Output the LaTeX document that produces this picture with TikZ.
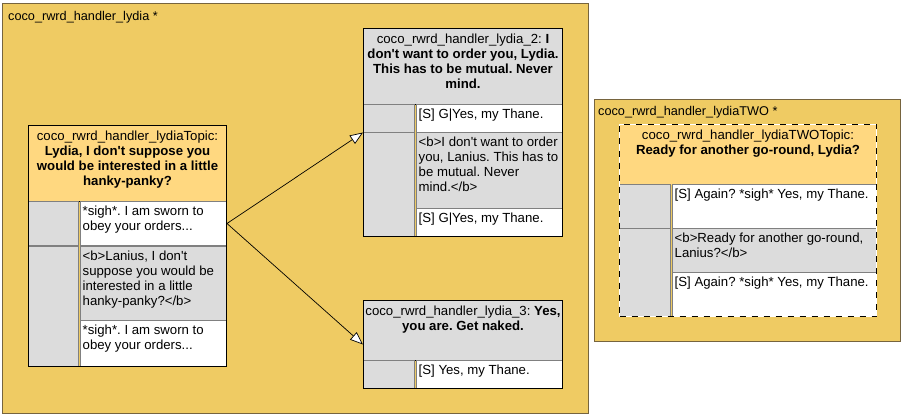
\documentclass[tikz,border=0pt]{standalone}
\usepackage{fontspec}
\setmainfont{Liberation Sans}[Ligatures=TeXOff]
\usetikzlibrary{arrows.meta}
\definecolor{grpfill}{RGB}{239,203,99}
\definecolor{grpline}{RGB}{118,100,62}
\definecolor{topicfill}{RGB}{255,216,128}
\definecolor{cellgrey}{RGB}{220,220,220}
\definecolor{cellline}{RGB}{128,128,128}
\frenchspacing

\begin{document}
\begin{tikzpicture}[x=1pt, y=-1pt, font=\fontsize{13.2}{15}\selectfont,
  grp/.style={draw=grpline, fill=grpfill, line width=1pt, anchor=north west, inner sep=0pt},
  cell/.style={draw=cellline, line width=1pt, anchor=north west, inner sep=0pt},
  greycell/.style={cell, fill=cellgrey},
  whitecell/.style={cell, fill=white},
  outline/.style={draw=black, line width=1pt, anchor=north west, inner sep=0pt},
  grpname/.style={anchor=north west, inner sep=0pt, font=\fontsize{12.7}{15}\selectfont},
  txt/.style={anchor=north west, inner xsep=2.5pt, inner ysep=4.5pt, align=left},
  hdrtxt/.style={anchor=north, inner xsep=0pt, inner ysep=6pt, align=center},
  link/.style={-{Triangle[fill=white, length=13pt, width=10pt]}, line width=0.7pt}]
  \useasboundingbox (0,0) rectangle (907,417);

  % group lydia
  \node[grp, minimum width=586, minimum height=410] (lydia) at (2,3) {};
  \node[grpname] (lydiaName) at (8,11) {coco\_rwrd\_handler\_lydia *};

  % topic
  \node[cell, draw=black, fill=topicfill, minimum width=198, minimum height=76] (topicHdr) at (28,125) {};
  \node[hdrtxt] (topicTitle) at (topicHdr.north) {coco\_rwrd\_handler\_lydiaTopic:\\
    \textbf{Lydia, I don't suppose you}\\\textbf{would be interested in a little}\\\textbf{hanky-panky?}};
  \node[greycell, minimum width=50, minimum height=44] (topicA) at (28,201) {};
  \node[whitecell, minimum width=146, minimum height=44] (topicAres) at (80,201) {};
  \node[txt] (topicAtxt) at (topicAres.north west) {*sigh*. I am sworn to\\obey your orders...};
  \node[greycell, minimum width=50, minimum height=120] (topicB) at (28,246) {};
  \node[greycell, minimum width=146, minimum height=74] (topicBsay) at (80,246) {};
  \node[txt] (topicBtxt) at (topicBsay.north west) {<b>Lanius, I don't\\suppose you would be\\interested in a little\\hanky-panky?</b>};
  \node[whitecell, minimum width=146, minimum height=46] (topicBres) at (80,320) {};
  \node[txt] (topicBrestxt) at (topicBres.north west) {*sigh*. I am sworn to\\obey your orders...};
  \node[outline, minimum width=198, minimum height=241] (topic) at (28,125) {};

  % lydia_2
  \node[cell, draw=black, fill=cellgrey, minimum width=199, minimum height=76] (twoHdr) at (363,28) {};
  \node[hdrtxt] (twoTitle) at (twoHdr.north) {coco\_rwrd\_handler\_lydia\_2: \textbf{I}\\
    \textbf{don't want to order you, Lydia.}\\\textbf{This has to be mutual. Never}\\\textbf{mind.}};
  \node[greycell, minimum width=51, minimum height=28] (twoA) at (363,104) {};
  \node[whitecell, minimum width=146, minimum height=28] (twoAres) at (416,104) {};
  \node[txt] (twoAtxt) at (twoAres.north west) {[S] G|Yes, my Thane.};
  \node[greycell, minimum width=51, minimum height=104] (twoB) at (363,132) {};
  \node[greycell, minimum width=146, minimum height=76] (twoBsay) at (416,132) {};
  \node[txt] (twoBtxt) at (twoBsay.north west) {<b>I don't want to order\\you, Lanius. This has to\\be mutual. Never\\mind.</b>};
  \node[whitecell, minimum width=146, minimum height=28] (twoBres) at (416,208) {};
  \node[txt] (twoBrestxt) at (twoBres.north west) {[S] G|Yes, my Thane.};
  \node[outline, minimum width=199, minimum height=208] (two) at (363,28) {};

  % lydia_3
  \node[cell, draw=black, fill=cellgrey, minimum width=199, minimum height=60] (threeHdr) at (363,300) {};
  \node[hdrtxt] (threeTitle) at (threeHdr.north) {coco\_rwrd\_handler\_lydia\_3: \textbf{Yes,}\\
    \textbf{you are. Get naked.}};
  \node[greycell, minimum width=51, minimum height=28] (threeA) at (363,360) {};
  \node[whitecell, minimum width=146, minimum height=28] (threeAres) at (416,360) {};
  \node[txt] (threeAtxt) at (threeAres.north west) {[S] Yes, my Thane.};
  \node[outline, minimum width=199, minimum height=88] (three) at (363,300) {};

  \draw[link] (topicAres.east) -- (two.west);
  \draw[link] (topicAres.east) -- (three.west);

  % group lydiaTWO
  \node[grp, minimum width=306, minimum height=242] (lydiaTWO) at (594,99) {};
  \node[grpname] (lydiaTWOName) at (598,106) {coco\_rwrd\_handler\_lydiaTWO *};

  % lydiaTWO topic
  \node[cell, draw=none, fill=topicfill, minimum width=257, minimum height=60] (againHdr) at (619,124) {};
  \node[hdrtxt] (againTitle) at (againHdr.north) {coco\_rwrd\_handler\_lydiaTWOTopic:\\
    \textbf{Ready for another go-round, Lydia?}};
  \node[greycell, minimum width=51, minimum height=44] (againA) at (619,184) {};
  \node[whitecell, minimum width=204, minimum height=44] (againAres) at (672,184) {};
  \node[txt] (againAtxt) at (againAres.north west) {[S] Again? *sigh* Yes, my Thane.};
  \node[greycell, minimum width=51, minimum height=88] (againB) at (619,228) {};
  \node[greycell, minimum width=204, minimum height=44] (againBsay) at (672,228) {};
  \node[txt] (againBtxt) at (againBsay.north west) {<b>Ready for another go-round,\\Lanius?</b>};
  \node[whitecell, minimum width=204, minimum height=44] (againBres) at (672,272) {};
  \node[txt] (againBrestxt) at (againBres.north west) {[S] Again? *sigh* Yes, my Thane.};
  \node[outline, draw=white, minimum width=257, minimum height=192] (againBack) at (619,124) {};
  \node[outline, dash pattern=on 6pt off 6pt, minimum width=257, minimum height=192] (again) at (619,124) {};
\end{tikzpicture}
\end{document}
